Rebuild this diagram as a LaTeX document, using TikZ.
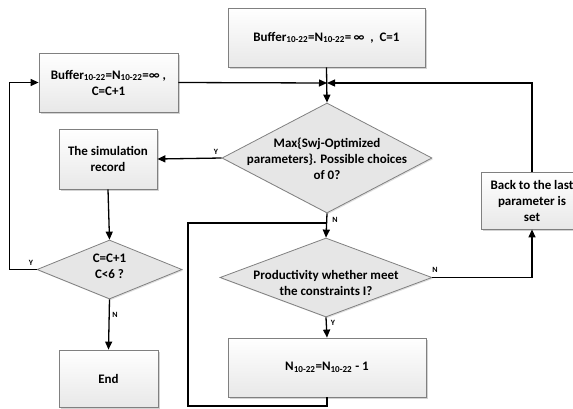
\documentclass[tikz,border=0pt]{standalone}
\usepackage{fontspec}
\setmainfont{Carlito}
\usetikzlibrary{shapes.geometric,arrows.meta,shadows}
\definecolor{bordergray}{HTML}{808080}
\definecolor{diafill}{HTML}{E6E6E6}
\begin{document}
\begin{tikzpicture}[x=1pt,y=-1pt,
  font=\bfseries\fontsize{13}{16}\selectfont,
  procbox/.style={draw=bordergray, line width=0.8pt, top color=white, bottom color=gray!18,
    drop shadow={shadow xshift=1.5pt, shadow yshift=-1.5pt, opacity=0.35, fill=gray},
    inner sep=0pt, align=center},
  dia/.style={diamond, draw=bordergray, line width=0.8pt, fill=diafill, inner sep=0pt,
    drop shadow={shadow xshift=1.2pt, shadow yshift=-1.2pt, opacity=0.25, fill=gray}},
  diatext/.style={align=center, inner sep=0pt},
  conn/.style={line width=1.3pt, draw=black},
  arr/.style={conn, -{Triangle[length=8pt,width=7pt]}},
  lab/.style={font=\bfseries\fontsize{8}{9}\selectfont, inner sep=0pt}
]
\useasboundingbox (0,0) rectangle (573,408);
\begin{scope}
\clip (0,0) rectangle (573,408);
% boxes
\node[procbox, minimum width=197pt, minimum height=59pt] (top) at (326.5,37.5)
  {Buffer\textsubscript{10-22}=N\textsubscript{10-22}=\,∞ \ , \ C=1};
\node[procbox, minimum width=139pt, minimum height=59pt] (leftbox) at (108.5,82.5)
  {Buffer\textsubscript{10-22}=N\textsubscript{10-22}=∞ ,\\C=C+1};
\node[procbox, minimum width=98pt, minimum height=60pt] (sim) at (108,159)
  {The simulation\\record};
\node[procbox, minimum width=99pt, minimum height=57pt] (endbox) at (108.5,378.5) {End};
\node[procbox, minimum width=198pt, minimum height=59pt] (nbox) at (327,367.5)
  {N\textsubscript{10-22}=N\textsubscript{10-22} - 1};
\node[procbox, minimum width=102pt, minimum height=57pt] (back) at (532,200.5)
  {Back to the last\\parameter is\\set};
% diamonds
\node[dia, minimum width=210pt, minimum height=110pt] (d1) at (327,158) {};
\node[diatext] (d1t) at (327,159) {Max\{Swj-Optimized\\parameters\}. Possible choices\\of 0?};
\node[dia, minimum width=145pt, minimum height=59pt] (d2) at (109.5,269.5) {};
\node[diatext] (d2t) at (109.5,266) {C=C+1\\C<6 ?};
\node[dia, minimum width=212pt, minimum height=79pt] (d3) at (326,277.5) {};
\node[diatext] (d3t) at (326,283) {Productivity whether meet\\the constraints I?};
% junction points
\coordinate (J) at (327,83);
\coordinate (M) at (327,223);
\coordinate (lc) at (188,406);
% connectors
\draw[arr] (top.south) -- (d1.north);
\draw[arr] (leftbox.east) -- (J);
\draw[arr] (back.north) |- (J);
\draw[arr] (d1.west) -- (sim.east);
\draw[arr] (sim.south) -- (d2.north);
\draw[arr] (d2.west) -- ++(-27,0) |- (leftbox.west);
\draw[arr] (d2.south) -- (endbox.north);
\draw[arr] (d1.south) -- (d3.north);
\draw[arr] (d3.east) -| (back.south);
\draw[arr] (d3.south) -- (nbox.north);
\draw[conn] (nbox.south) |- (lc) |- (M);
% labels
\node[lab] (l1) at (216,152) {Y};
\node[lab] (l2) at (335,220) {N};
\node[lab] (l3) at (435,270) {N};
\node[lab] (l4) at (333,323) {Y};
\node[lab] (l5) at (31,263) {Y};
\node[lab] (l6) at (115,315) {N};
\end{scope}
\end{tikzpicture}
\end{document}
